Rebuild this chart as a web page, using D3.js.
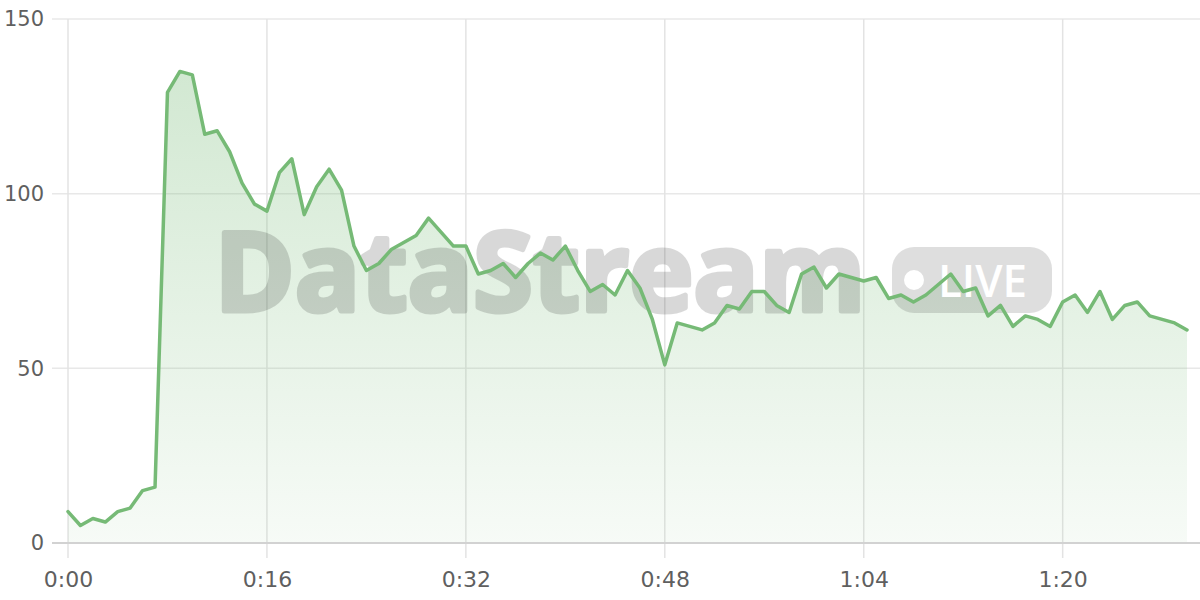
<!DOCTYPE html>
<html>
<head>
<meta charset="utf-8">
<script src="https://cdn.jsdelivr.net/npm/d3@7/dist/d3.min.js"></script>
<style>
  html, body { margin: 0; padding: 0; background: #ffffff; }
  svg { display: block; }
</style>
</head>
<body>
<svg id="chart" width="1200" height="600"></svg>
<script>
// ---- data ----
const seconds = d3.range(0, 91);
const values = [
  9, 5, 7, 6, 9, 10, 15, 16, 129, 135,
  134, 117, 118, 112, 103, 97, 95, 106, 110, 94,
  102, 107, 101, 85, 78, 80, 84, 86, 88, 93,
  89, 85, 85, 77, 78, 80, 76, 80, 83, 81,
  85, 78, 72, 74, 71, 78, 73, 64, 51, 63,
  62, 61, 63, 68, 67, 72, 72, 68, 66, 77,
  79, 73, 77, 76, 75, 76, 70, 71, 69, 71,
  74, 77, 72, 73, 65, 68, 62, 65, 64, 62,
  69, 71, 66, 72, 64, 68, 69, 65, 64, 63,
  61
];
const xTicks = [0, 16, 32, 48, 64, 80];
const yTicks = [0, 50, 100, 150];
const watermarkText = "DataStream";
const badgeText = "LIVE";

// ---- layout ----
const W = 1200, H = 600;
const mLeft = 68, mRight = 1187, mTop = 19, mBottom = 543;
const svg = d3.select("#chart");

const x = d3.scaleLinear().domain([0, 90]).range([mLeft, mRight]);
const y = d3.scaleLinear().domain([0, 150]).range([mBottom, mTop]);

const fmt = v => `${Math.floor(v / 60)}:${String(v % 60).padStart(2, "0")}`;
const data = seconds.map((s, i) => ({ s, v: values[i] }));

// gradient
const defs = svg.append("defs");
const grad = defs.append("linearGradient")
  .attr("id", "areaGrad")
  .attr("gradientUnits", "userSpaceOnUse")
  .attr("x1", 0).attr("x2", 0)
  .attr("y1", y(150)).attr("y2", y(0));
grad.append("stop").attr("offset", "0%").attr("stop-color", "rgb(118,186,118)").attr("stop-opacity", 0.36);
grad.append("stop").attr("offset", "100%").attr("stop-color", "rgb(118,186,118)").attr("stop-opacity", 0.06);

// horizontal grid
svg.append("g")
  .selectAll("line")
  .data(yTicks.filter(t => t !== 0))
  .join("line")
  .attr("x1", 52).attr("x2", W)
  .attr("y1", d => y(d)).attr("y2", d => y(d))
  .attr("stroke", "#e8e8e8").attr("stroke-width", 1.5);

// vertical grid
svg.append("g")
  .selectAll("line")
  .data(xTicks)
  .join("line")
  .attr("x1", d => x(d)).attr("x2", d => x(d))
  .attr("y1", mTop).attr("y2", 558)
  .attr("stroke", "#e3e3e3").attr("stroke-width", 1.5);

// area
const area = d3.area().x(d => x(d.s)).y0(y(0)).y1(d => y(d.v));
svg.append("path").datum(data).attr("d", area).attr("fill", "url(#areaGrad)");

// watermark
const wm = svg.append("g").attr("opacity", 0.15);
wm.append("text")
  .attr("x", 214.5).attr("y", 310.5)
  .attr("font-family", "'Open Sans', 'DejaVu Sans', sans-serif")
  .attr("font-weight", 700)
  .attr("font-size", 110)
  .attr("textLength", 651)
  .attr("lengthAdjust", "spacingAndGlyphs")
  .attr("fill", "#000")
  .attr("stroke", "#000")
  .attr("stroke-width", 5)
  .attr("stroke-linejoin", "round")
  .text(watermarkText);
const badge = svg.append("g");
badge.append("rect")
  .attr("x", 892).attr("y", 247).attr("width", 160).attr("height", 66)
  .attr("rx", 22).attr("ry", 22)
  .attr("fill", "rgba(0,0,0,0.13)");
badge.append("circle")
  .attr("cx", 914).attr("cy", 280).attr("r", 10)
  .attr("fill", "#ffffff");
badge.append("text")
  .attr("x", 938).attr("y", 297)
  .attr("font-family", "'Open Sans', 'DejaVu Sans', sans-serif")
  .attr("font-weight", 600)
  .attr("font-size", 46)
  .attr("textLength", 89)
  .attr("lengthAdjust", "spacingAndGlyphs")
  .attr("fill", "#ffffff")
  .text(badgeText);

// zero axis line
svg.append("line")
  .attr("x1", 52).attr("x2", W)
  .attr("y1", y(0)).attr("y2", y(0))
  .attr("stroke", "#d2d2d2").attr("stroke-width", 2);

// line
const line = d3.line().x(d => x(d.s)).y(d => y(d.v));
svg.append("path").datum(data).attr("d", line)
  .attr("fill", "none")
  .attr("stroke", "#76ba76")
  .attr("stroke-width", 3.5)
  .attr("stroke-linejoin", "round")
  .attr("stroke-linecap", "round");

// y labels
const yg = svg.append("g")
  .attr("transform", `translate(${mLeft},0)`)
  .call(d3.axisLeft(y).tickValues(yTicks).tickSize(0).tickPadding(mLeft - 44));
yg.select(".domain").remove();
yg.selectAll("text")
  .attr("font-family", "'DejaVu Sans', sans-serif")
  .attr("font-size", 21)
  .attr("fill", "#5f5f5f");

// x labels
const xg = svg.append("g")
  .attr("transform", `translate(0,${mBottom})`)
  .call(d3.axisBottom(x).tickValues(xTicks).tickFormat(fmt).tickSize(0).tickPadding(28));
xg.select(".domain").remove();
xg.selectAll("text")
  .attr("font-family", "'DejaVu Sans', sans-serif")
  .attr("font-size", 22)
  .attr("fill", "#5f5f5f");
</script>
</body>
</html>
